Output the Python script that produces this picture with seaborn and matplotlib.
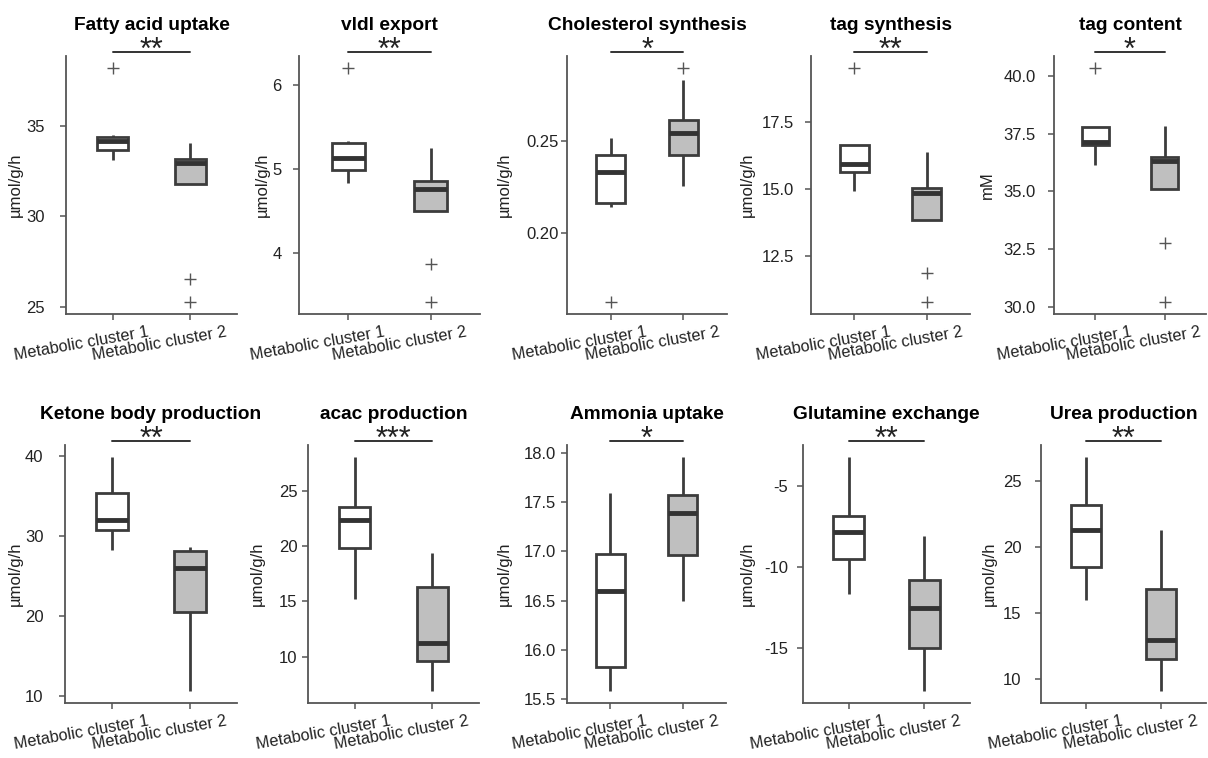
import numpy as np
import pandas as pd
import matplotlib
matplotlib.use("Agg")
import matplotlib.pyplot as plt
import matplotlib.transforms as mtransforms
import seaborn as sns

# ---------------- data ----------------
groups = ["Metabolic cluster 1", "Metabolic cluster 2"]

titles = ["Fatty acid uptake", "vldl export", "Cholesterol synthesis", "tag synthesis",
          "tag content", "Ketone body production", "acac production", "Ammonia uptake",
          "Glutamine exchange", "Urea production"]
ylabels = ["µmol/g/h", "µmol/g/h", "µmol/g/h", "µmol/g/h", "mM",
           "µmol/g/h", "µmol/g/h", "µmol/g/h", "µmol/g/h", "µmol/g/h"]
stars = ["**", "**", "*", "**", "*", "**", "***", "*", "**", "**"]

fatty_c1 = [33.11, 33.40, 33.67, 33.95, 34.13, 34.25, 34.37, 34.46, 38.20]
fatty_c2 = [25.24, 26.52, 31.78, 32.40, 32.93, 33.05, 33.15, 33.60, 34.04]
vldl_c1 = [4.83, 4.90, 4.98, 5.05, 5.13, 5.22, 5.30, 5.33, 6.20]
vldl_c2 = [3.41, 3.87, 4.49, 4.62, 4.76, 4.80, 4.85, 5.00, 5.25]
chol_c1 = [0.1626, 0.2144, 0.2162, 0.2250, 0.2333, 0.2380, 0.2421, 0.2470, 0.2513]
chol_c2 = [0.2255, 0.2350, 0.2425, 0.2500, 0.2545, 0.2580, 0.2612, 0.2831, 0.2896]
tagsyn_c1 = [14.94, 15.30, 15.63, 15.80, 15.94, 16.30, 16.63, 16.63, 19.51]
tagsyn_c2 = [10.79, 11.88, 13.84, 14.40, 14.86, 14.95, 15.04, 15.60, 16.37]
tagcon_c1 = [36.15, 36.60, 37.03, 37.08, 37.12, 37.50, 37.79, 37.79, 40.36]
tagcon_c2 = [30.19, 32.78, 35.09, 35.80, 36.32, 36.40, 36.51, 37.10, 37.82]
ketone_c1 = [28.28, 29.90, 30.71, 31.30, 31.97, 33.50, 35.36, 37.50, 39.90]
ketone_c2 = [10.59, 16.00, 20.50, 23.80, 25.94, 27.20, 28.08, 28.30, 28.58]
acac_c1 = [15.18, 18.00, 19.83, 21.20, 22.31, 23.00, 23.55, 25.50, 28.05]
acac_c2 = [6.87, 8.50, 9.59, 10.40, 11.25, 14.00, 16.33, 18.00, 19.35]
ammonia_c1 = [15.58, 15.70, 15.83, 16.20, 16.60, 16.80, 16.97, 17.30, 17.59]
ammonia_c2 = [16.50, 16.75, 16.96, 17.20, 17.39, 17.48, 17.57, 17.75, 17.96]
gln_c1 = [-11.70, -10.50, -9.54, -8.60, -7.85, -7.30, -6.84, -5.00, -3.21]
gln_c2 = [-17.68, -16.20, -15.02, -13.60, -12.55, -11.60, -10.81, -9.50, -8.09]
urea_c1 = [15.96, 17.20, 18.47, 20.00, 21.25, 22.20, 23.18, 25.00, 26.82]
urea_c2 = [9.05, 10.30, 11.51, 12.30, 12.97, 15.00, 16.82, 19.00, 21.28]

yticks = [[25, 30, 35], [4, 5, 6], [0.20, 0.25], [12.5, 15.0, 17.5],
          [30.0, 32.5, 35.0, 37.5, 40.0], [10, 20, 30, 40], [10, 15, 20, 25],
          [15.5, 16.0, 16.5, 17.0, 17.5, 18.0], [-15, -10, -5], [10, 15, 20, 25]]
yticklabels = [["25", "30", "35"], ["4", "5", "6"], ["0.20", "0.25"],
               ["12.5", "15.0", "17.5"], ["30.0", "32.5", "35.0", "37.5", "40.0"],
               ["10", "20", "30", "40"], ["10", "15", "20", "25"],
               ["15.5", "16.0", "16.5", "17.0", "17.5", "18.0"],
               ["-15", "-10", "-5"], ["10", "15", "20", "25"]]

series = [(fatty_c1, fatty_c2), (vldl_c1, vldl_c2), (chol_c1, chol_c2),
          (tagsyn_c1, tagsyn_c2), (tagcon_c1, tagcon_c2), (ketone_c1, ketone_c2),
          (acac_c1, acac_c2), (ammonia_c1, ammonia_c2), (gln_c1, gln_c2),
          (urea_c1, urea_c2)]

# ---------------- layout (pixels) ----------------
W, H = 1208, 758
rows_tb = [(56, 314), (445, 703)]
lr = [(66, 237), (299, 480), (567, 727), (811, 970), (1054, 1206),
      (65, 237), (308, 479), (567, 726), (803, 970), (1041, 1206)]
ylab_off = [-43, -29, -55, -56, -59, -42, -43, -55, -48, -44]
tick_gap = [20, 16, 7, 15, 17, 20, 9, 9, 13, 18]

sns.set_style("white")
plt.rcParams["font.family"] = ["Liberation Sans", "DejaVu Sans"]

fig = plt.figure(figsize=(W / 100, H / 100), dpi=100)
fig.patch.set_facecolor("white")

spine_col = "#555555"
line_col = "#3c3c3c"
palette = ["#ffffff", "#bfbfbf"]

for i in range(10):
    top, bot = rows_tb[i // 5]
    l, r = lr[i]
    ax = fig.add_axes([l / W, 1 - bot / H, (r - l) / W, (bot - top) / H])
    c1, c2 = series[i]
    df = pd.DataFrame({
        "group": [groups[0]] * len(c1) + [groups[1]] * len(c2),
        "value": list(c1) + list(c2),
    })
    sns.boxplot(data=df, x="group", y="value", hue="group", palette=palette,
                legend=False, ax=ax, width=0.4, linecolor=line_col, linewidth=2.0,
                showcaps=False, whis=1.5,
                medianprops=dict(linewidth=3.5, color="#333333"),
                flierprops=dict(marker="+", markersize=9, markeredgewidth=1.0,
                                markeredgecolor="#555555"))
    ax.set_xlim(-0.6, 1.6)
    ax.set_yticks(yticks[i])
    ax.set_yticklabels(yticklabels[i])
    ax.set_xlabel("")
    ax.set_ylabel(ylabels[i], fontsize=12, color="#222222")
    ax.yaxis.set_label_coords(ylab_off[i] / (r - l), 0.5)
    for s in ["top", "right"]:
        ax.spines[s].set_visible(False)
    for s in ["left", "bottom"]:
        ax.spines[s].set_color(spine_col)
        ax.spines[s].set_linewidth(1.3)
    ax.tick_params(axis="y", length=4, width=1.1, color=spine_col, direction="out",
                   pad=(tick_gap[i] - 4) * 0.72, labelsize=12, labelcolor="#222222",
                   left=True)
    ax.tick_params(axis="x", length=4, width=1.1, color=spine_col, direction="out",
                   pad=3.6, labelsize=11.7, labelcolor="#222222", bottom=True)
    ax.set_xticks([0, 1])
    ax.set_xticklabels(groups, rotation=10, ha="center")
    off = mtransforms.ScaledTranslation(-31 / 100, 0, fig.dpi_scale_trans)
    for lab in ax.get_xticklabels():
        lab.set_transform(lab.get_transform() + off)
    ax.set_title(titles[i], fontsize=13.8, fontweight="bold", pad=19, color="black")

    # significance bar
    trans = mtransforms.blended_transform_factory(ax.transData, ax.transAxes)
    ybar = 1 + 4.3 / (bot - top)
    ax.plot([0, 1], [ybar, ybar], color="#333333", lw=1.4, transform=trans,
            clip_on=False)
    ax.text(0.5, ybar - 7.0 / (bot - top), stars[i], transform=trans, ha="center",
            va="baseline", fontsize=22, color="#222222", clip_on=False)

fig.savefig("out.png", dpi=100, facecolor="white")
